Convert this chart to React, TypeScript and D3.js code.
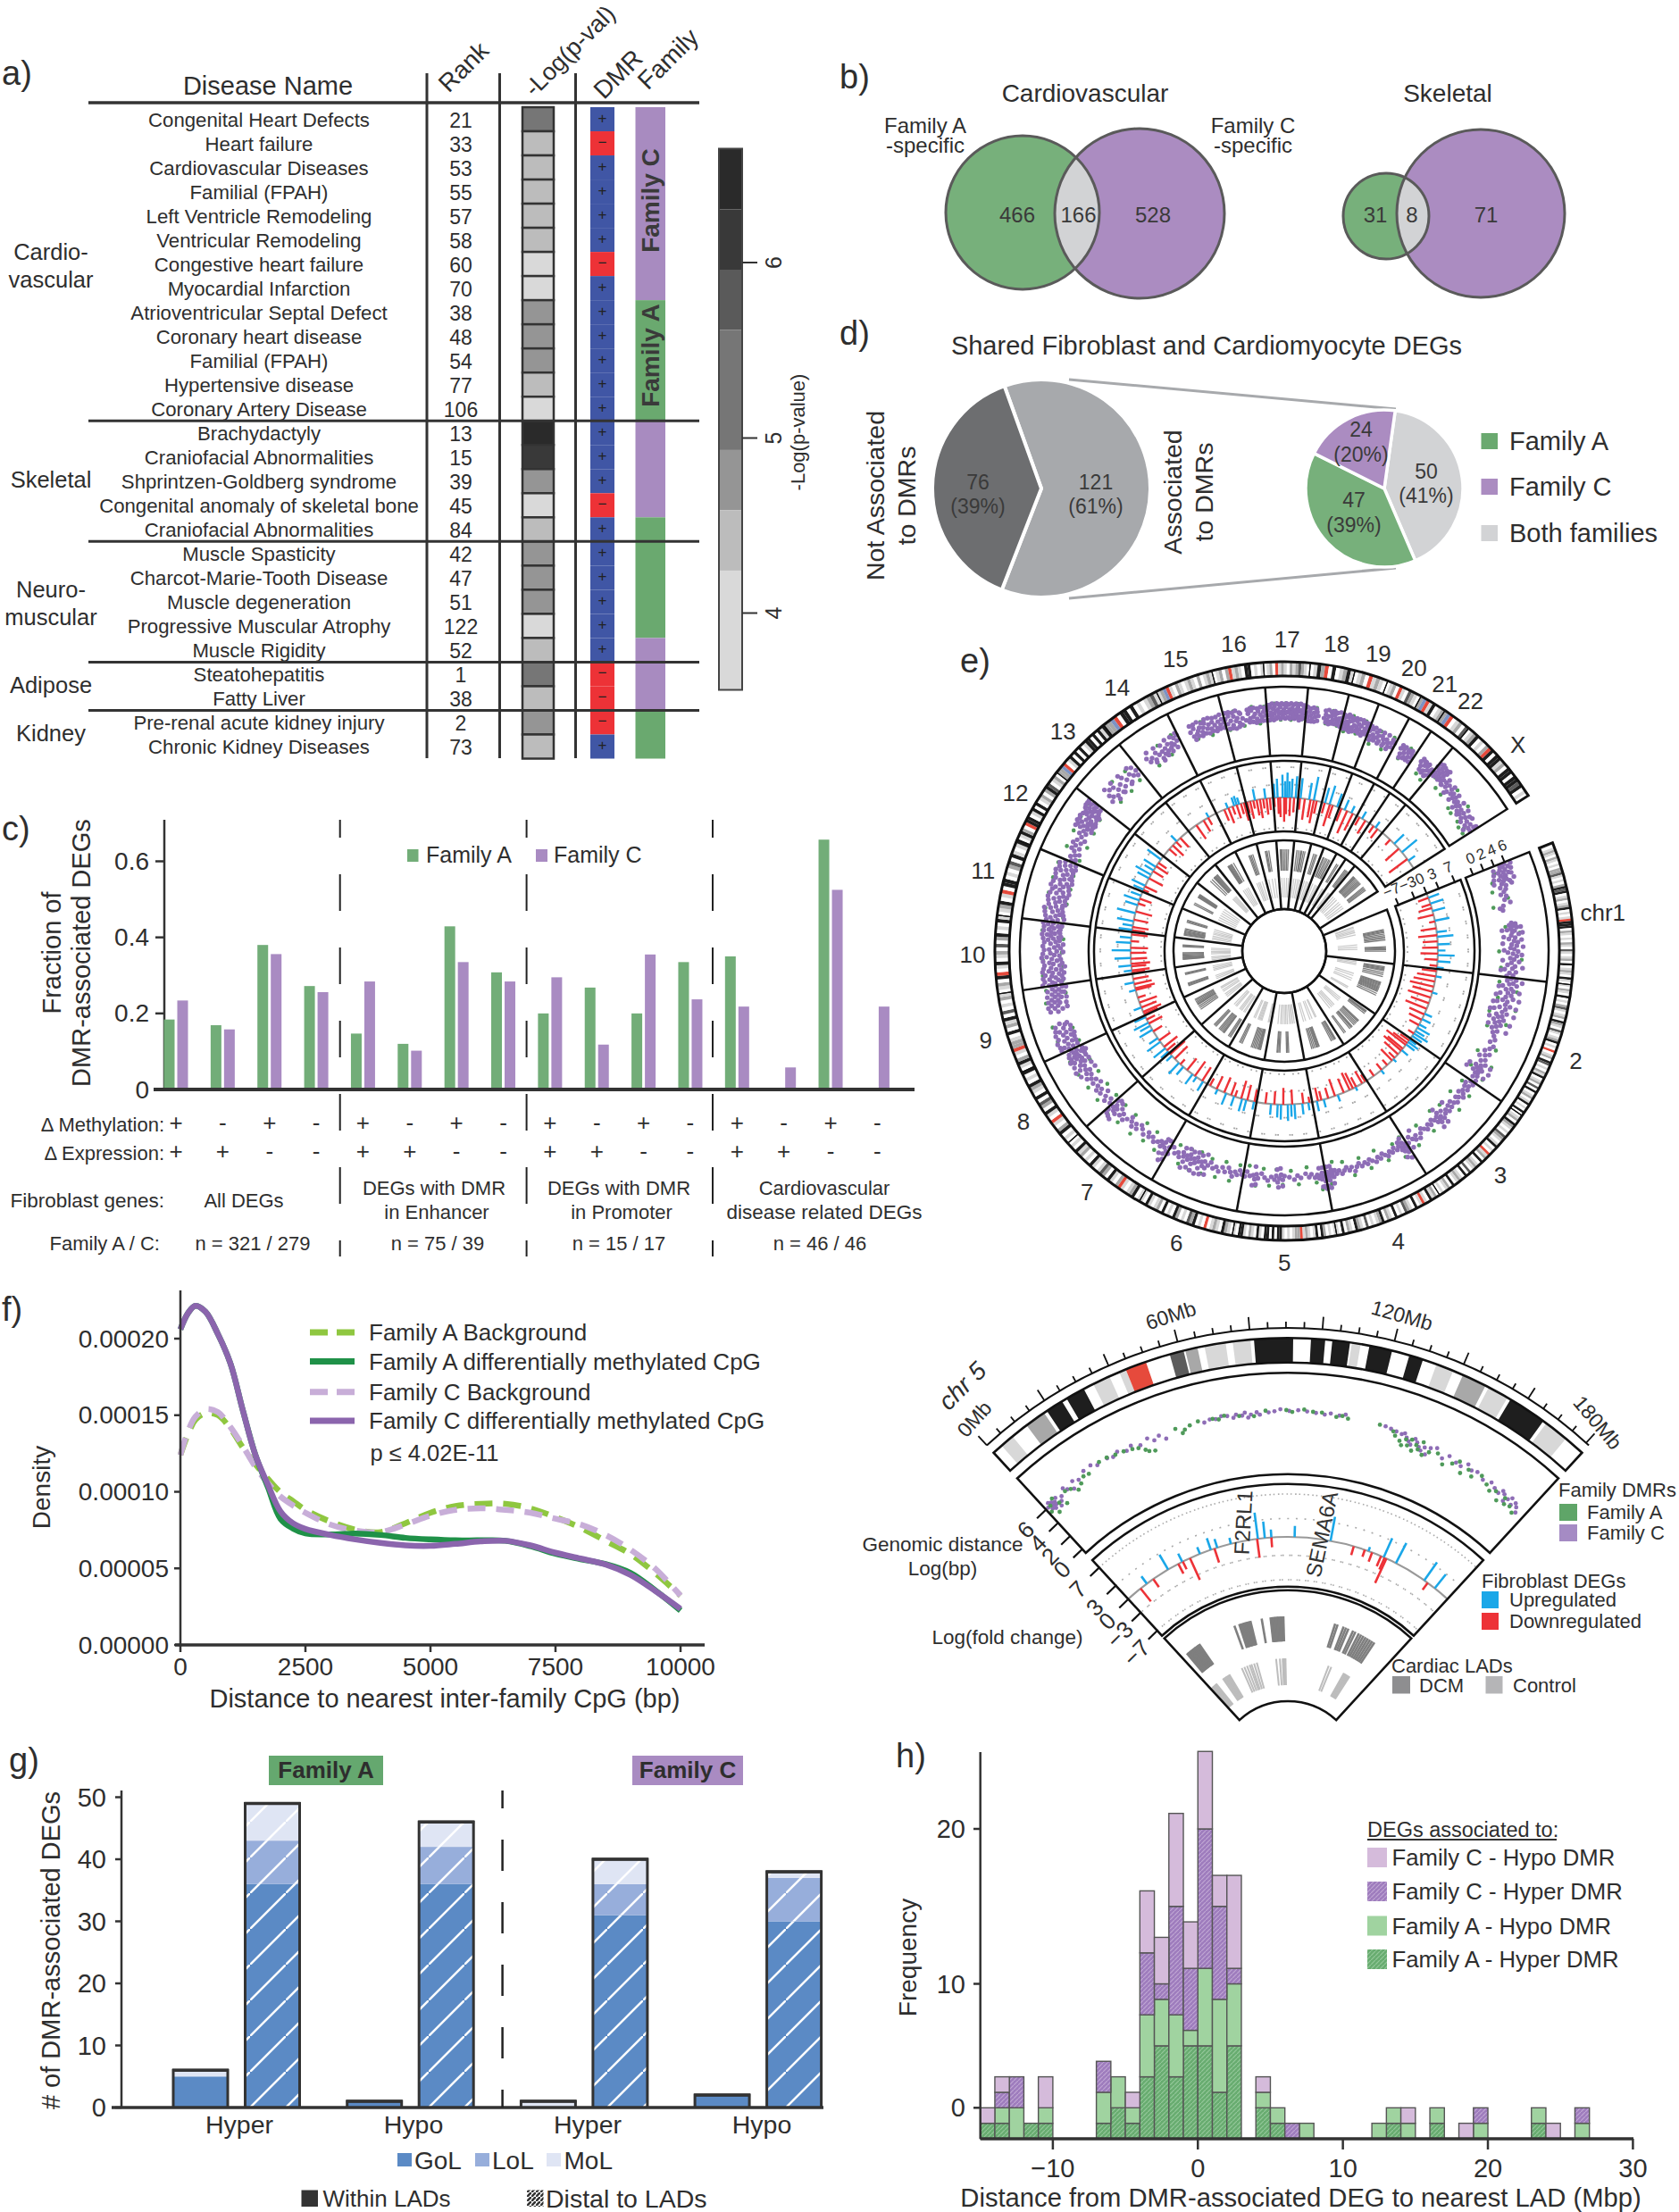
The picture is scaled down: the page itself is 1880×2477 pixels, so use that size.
import React from "react";
import * as d3 from "d3";

// ---------- shared colours ----------
const GREEN = "#6aa96f", PURPLE = "#a88bc0", INK = "#2e2e2e";
const FONT = "'Liberation Sans', Arial, sans-serif";

// ---------- panel a ----------
const diseaseNames = ["Congenital Heart Defects","Heart failure","Cardiovascular Diseases","Familial (FPAH)","Left Ventricle Remodeling","Ventricular Remodeling","Congestive heart failure","Myocardial Infarction","Atrioventricular Septal Defect","Coronary heart disease","Familial (FPAH)","Hypertensive disease","Coronary Artery Disease","Brachydactyly","Craniofacial Abnormalities","Shprintzen-Goldberg syndrome","Congenital anomaly of skeletal bone","Craniofacial Abnormalities","Muscle Spasticity","Charcot-Marie-Tooth Disease","Muscle degeneration","Progressive Muscular Atrophy","Muscle Rigidity","Steatohepatitis","Fatty Liver","Pre-renal acute kidney injury","Chronic Kidney Diseases"];
const diseaseRanks = [21,33,53,55,57,58,60,70,38,48,54,77,106,13,15,39,45,84,42,47,51,122,52,1,38,2,73];
const heatLevels = [4,2,2,2,2,2,1,1,3,3,3,2,1,7,6,3,1,2,3,3,3,1,2,4,2,3,2];
const dmrSigns = "+-++++-++++++" + "+++-+" + "+++++" + "--" + "-+";
const familyRuns: [string, number][] = [["C",8],["A",5],["C",4],["A",5],["C",3],["A",2]];
const heatGreys = ["#d9d9d9","#bcbcbc","#959595","#767676","#5a5a5a","#393939","#2a2a2a"];
const categoryLabels: [string, number][] = [["Cardio-",281.5],["vascular",313],["Skeletal",537],["Neuro-",660],["muscular",691],["Adipose",766.5],["Kidney",821]];
const sepRows = [13,18,23,25];

// ---------- panel b / d ----------
const bigPie = [121,76];
const smallPie = [50,47,24];

// ---------- panel c ----------
const famAFrac = [.184,.169,.38,.272,.147,.12,.429,.308,.2,.268,.2,.335,.35,0,.657,0];
const famCFrac = [.234,.158,.356,.256,.284,.102,.335,.284,.295,.118,.355,.237,.218,.058,.525,.218];
const methSigns = "+-+-+-+-+-+-+-+-";
const exprSigns = "++--++--++--++--";

// ---------- panel f ----------
const dpX = [0,150,300,500,750,1000,1250,1500,1750,2000,2250,2500,3000,3500,4000,4500,5000,5500,6000,6500,7000,7500,8000,8500,9000,9500,10000];
const famCDm = [206,216.6,221.4,217.6,203,183.8,153,124,104.6,87.3,79.5,75.7,71.8,68.9,66.6,65,64.7,66,67.6,68,65,60.2,56.4,52.5,45.7,35.1,23.5];
const famADm = [206,216.6,221.4,217.6,203,183.8,153,124,103,82.4,76,72.8,72.2,72.8,71.8,69.9,68.9,68.3,68.3,68,64.5,59.5,56,52.8,47,35.5,22.5];
const famABg = [124,137.5,147,151.3,150,141.3,128.8,118,108.5,99.8,94,88.2,80.5,75.3,73.7,79.5,86.3,90.7,92.1,92.1,89.2,83.4,76.6,68,59.3,46.7,32.2];
const famCBg = [124,139.4,149,153.9,152,142.3,129.8,116.2,105.6,96.9,91.1,86.3,78.6,74.7,73.7,78.6,84.4,88.2,89.2,88.2,86.3,82.4,78.6,71.8,62.2,49.6,32.2];

// ---------- panel g ----------
const gLabels = ["Hyper","Hypo","Hyper","Hypo"];
const gGoL = [5,36,1,36,0,31,2,30];
const gLoL = [0,7,0,6,0,5,0,7];
const gMoL = [1,6,0,4,1,4,0,1];

// ---------- panel h ----------
const hBinStart = d3.range(-15,27);
const hAHyper = [1,1,0,1,1,0,0,0,1,2,1,4,6,4,6,6,3,6,0,2,1,0,0,0,0,0,0,0,1,0,0,1,0,0,0,0,0,0,1,0,0,0];
const hAHypo  = [0,1,2,0,1,0,0,0,2,2,1,4,3,4,1,5,6,4,0,1,1,0,1,0,0,0,0,1,1,1,0,1,0,0,1,0,0,0,1,0,0,1];
const hCHyper = [0,1,2,0,0,0,0,0,2,0,0,4,1,7,4,9,6,1,0,0,0,1,0,0,0,0,0,0,0,0,0,0,0,0,1,0,0,0,0,0,0,1];
const hCHypo  = [1,1,0,0,2,0,0,0,0,0,1,4,3,6,3,5,2,6,0,1,0,0,0,0,0,0,0,0,0,1,0,0,0,1,0,0,0,0,0,1,0,0];
const hYTicks: [number,string][] = [[2,"0"],[10,"10"],[20,"20"]];

// ---------- panel e: genome ----------
const chrNames = ["chr1","2","3","4","5","6","7","8","9","10","11","12","13","14","15","16","17","18","19","20","21","22","X"];
const chrMb = [249,243,198,191,181,171,159,146,141,136,135,134,115,107,102,90,81,78,59,63,48,51,155];
const chrBands = ["lwlmlwmlwlwmmdlwlwmkdkwlmwlmkwlwlrkkkwmlwlwmlwdlwlmwkwlmlwklw","lwmlwkwlwmdlwlmwkmlwdlwlmkwlwrwlmwkdwlwmlkwlmwdwkwlmwlkwlwkw","wlmwkmlwlwdmlwlkwlwrlmwkwlmlwdwkwlmlwkwmlwlw","wmlkwlrlwkwlmdwlwkwlmwkmlwlwdwlmkwlmwkwl","lwlwmkwklwlmlrmmlwlwlkkwkwkkwlkwlmwlkkwl","wlmkwlmlwrwlwkmdwlwmkwlwkwmlwlkwl","lwkmlwlrmwlkwmdlwlkwlwmlkwlw","wlwkmwlrwlkwmdwkwlmkwlwk","wlkmwlrmmlwkwmlkwdwlwml","wlmwkrwlkwlmwdwmkwlwkl","wlmkwlrwkkwlwmdwklwlk","wlkmwrkkwlkwkwlmwmkdwlmw","mmbrwlkwkwkwlkkwkwklk","mmbrwkkwkwlwlmdl","lmbrlwmlwlmlwmwlml","wlmwmrlmlwkkwlwl","wlmwrlmlwmlmdmlw","wlkmrwkwlmkl","wlmwrlmlw","wlmwrlwdmlw","mbrlkwlm","mbrwlmwd","wlmkwlwmrkwkklmwkkwkkdkwlw"];
const bandColor: Record<string,string> = {w:"#ffffff",l:"#d8d8d8",m:"#a8a8a8",d:"#5c5c5c",k:"#1e1e1e",r:"#e64a3c",b:"#7d93c4"};

// DMR dots per chromosome, "position%:value*10"
const dmrPurple = [
"1:62 2:58 3:60 4:64 5:57 6:61 7:55 8:59 9:63 10:56 11:60 12:58 13:54 14:60 15:57 16:62 17:55 19:58 20:53 22:57 24:55 26:52 28:56 31:54 34:58 36:52 38:49 40:51 52:56 53:59 54:54 55:57 56:60 57:55 58:52 59:58 60:56 62:61 63:55 65:58 66:53 68:57 69:60 71:55 72:59 74:54 75:57 77:60 78:52 79:56 81:59 83:54 84:57 86:61 87:55 89:52 90:58 92:56 93:50 95:59 96:54 98:57 99:52",
"1:56 2:60 3:53 5:58 6:55 7:61 8:50 10:57 11:53 12:59 14:55 15:49 16:58 18:54 19:60 21:52 22:56 23:48 25:55 26:59 28:51 29:56 30:47 32:54 33:58 35:50 36:55 37:52 39:57 40:49 41:54 43:51 44:56 46:53 48:50 50:55 52:52 55:54 58:56 61:53 64:57 67:55 70:52 72:57 74:54 76:50 78:56 80:53 82:58 84:55 85:51 86:56 87:53 88:58 89:55 90:51 91:56 92:54 94:57 96:54 98:58",
"1:55 3:58 5:52 7:56 9:53 11:57 14:54 17:56 18:52 20:58 23:55 25:53 28:57 31:55 33:52 36:56 38:53 41:57 43:54 46:56 48:52 50:58 52:55 53:51 54:56 55:59 56:53 58:57 60:54 63:52 66:55 69:53 72:56 75:54 78:52 81:55 84:58 87:54 89:57 92:55 95:52 98:56",
"1:59 2:55 3:62 4:57 5:53 6:60 7:56 8:58 10:54 13:56 16:53 19:56 22:54 25:57 28:55 31:53 34:56 37:54 40:57 44:55 47:53 50:56 53:54 57:56 60:53 63:55 66:58 69:54 72:56 75:53 78:55 81:57 84:54 87:56 89:53 91:58 92:55 93:52 94:57 95:54 96:60 97:56 98:53 99:58",
"1:60 2:56 3:64 4:53 5:58 6:55 8:57 10:54 13:56 17:53 20:55 24:52 30:55 34:53 38:56 44:54 50:53 52:56 54:52 56:55 58:58 60:53 62:56 66:54 70:57 74:55 78:52 82:56 84:53 86:57 88:54 92:55 96:52 98:56",
"2:55 5:52 8:56 11:54 14:58 17:55 20:52 24:56 28:53 32:57 36:54 40:56 44:52 47:55 50:58 52:53 54:57 56:54 58:60 60:55 62:52 64:57 66:54 68:59 70:55 72:52 74:57 76:54 78:60 80:56 82:53 85:58 88:55 92:57 96:53 99:60",
"1:55 3:59 5:62 7:57 9:53 11:56 13:58 15:54 19:56 24:58 28:55 33:57 36:54 41:58 46:55 50:53 53:58 57:55 60:59 64:56 67:53 71:57 75:60 79:56 82:59 85:54 88:61 90:57 92:60 94:55 96:58 98:62",
"3:58 7:55 11:60 15:57 19:53 23:59 27:56 30:60 34:57 37:53 41:59 44:55 48:58 51:61 54:56 58:59 61:55 64:58 67:62 70:57 73:60 76:55 78:58 80:63 82:56 84:60 86:57 88:61 90:58 92:54 94:60 96:57 98:61",
"2:62 4:58 6:65 9:61 12:57 15:63 18:60 21:56 24:62 27:59 30:64 34:60 39:58 42:62 60:60 63:56 66:62 69:59 71:64 73:57 75:61 77:58 79:63 81:55 83:60 85:57 87:62 89:54 91:59 93:56 95:61 97:53 99:58",
"1:63 3:58 5:60 8:55 10:62 12:57 15:60 18:54 20:59 23:62 25:56 28:60 31:53 34:58 36:61 39:55 42:59 45:63 48:57 51:60 54:55 57:61 60:57 63:54 66:60 69:56 72:62 74:58 76:54 78:60 80:63 82:57 84:60 86:54 88:62 90:58 92:60 94:55 96:63 98:59",
"2:60 4:56 7:62 10:58 13:55 16:61 19:57 22:63 25:59 28:54 31:60 34:57 37:62 40:58 43:55 46:61 49:56 52:59 55:63 58:57 61:60 64:55 67:61 70:58 73:54 76:60 79:57 82:63 85:59 88:55 91:61 94:57 97:62",
"2:58 5:55 8:60 12:57 15:54 18:59 21:62 24:56 27:60 30:63 33:57 36:61 39:55 43:59 47:62 50:57 53:60 56:64 58:58 60:62 62:59 64:65 66:60 68:57 70:63 72:59 75:62 78:65 80:61 82:58 84:64 86:62 88:66 90:60 92:63 94:67 96:62 98:65",
"22:55 26:60 30:57 34:63 38:55 42:62 46:58 50:54 55:60 60:56 65:63 70:59 75:55 80:61 85:58 90:64 94:60",
"24:62 28:58 34:60 40:57 45:62 50:59 54:55 58:60 62:57 66:61 70:58 74:63 78:59 82:62 86:60 90:65 94:62 98:66",
"26:63 30:59 34:65 38:60 42:62 46:64 50:60 54:63 58:66 62:61 66:64 70:60 74:65 78:62 82:59 86:64 90:61 94:65 98:62",
"2:64 6:60 10:66 14:62 18:58 22:65 26:61 30:63 34:59 38:66 42:62 50:60 56:65 60:61 64:67 68:62 72:64 76:60 80:66 84:63 88:61 92:65 96:62",
"1:66 4:62 7:68 10:64 13:61 16:67 19:63 22:65 25:60 28:66 31:63 34:68 37:64 40:61 43:66 46:63 49:68 52:64 55:60 58:66 61:63 64:67 67:64 70:61 73:66 76:63 79:68 82:65 85:61 88:66 91:63 94:67 97:64",
"2:64 6:61 10:66 14:63 18:60 22:65 26:62 30:66 34:63 50:62 54:65 58:61 62:64 66:60 70:65 74:62 78:66 82:63 86:61 90:64 94:61 98:65",
"1:62 6:66 10:60 14:63 18:67 22:61 26:64 30:59 35:65 40:60 45:62 50:66 55:61 60:64 65:60 70:63 75:66 80:59 85:62 90:65 95:60 99:63",
"3:62 8:58 13:64 18:60 23:57 28:63 33:59 38:61 44:57 50:62 56:60 62:57 68:61 74:59 80:56 86:60 92:57 97:61",
"30:60 38:56 45:61 52:58 60:55 68:60 76:57 84:61 92:58",
"35:60 44:57 50:62 57:59 64:55 70:60 76:57 82:53 88:58 94:55",
"1:65 3:60 5:63 7:66 9:61 11:64 13:59 15:62 17:65 19:60 21:56 24:60 27:57 30:60 33:55 36:59 39:56 42:58 45:55 48:57 51:54 54:56 57:53 60:55 63:51 66:54 69:51 72:54 75:50 78:53 81:56 84:52 87:49 90:53 93:50 96:54 98:50"];
// second, denser sheet of purple dots where the reference's cloud is thick
const dmrPurpleDense = [
"2:67 4:52 6:66 8:51 10:65 12:50 14:66 16:49 18:63 56:63 58:48 61:64 64:49 67:63 70:48 73:64 76:49 80:63 85:48 91:64 94:47",
"4:65 9:47 13:64 17:46 20:65 24:45 27:64 31:44 34:64 38:45 42:63 45:46 49:62 83:63 86:46 88:64 90:45 93:62",
"40:48 50:62 54:47 57:63 96:61 90:48",
"3:67 5:49 7:65 9:51 92:63 94:49 96:66 98:49 99:64",
"1:66 3:49 5:64 7:49 52:61 55:47 57:62 59:48 84:61 86:47 88:62",
"48:63 51:47 54:64 57:49 60:65 63:48 66:64 69:49 72:63 75:48 78:65 81:49",
"2:66 4:50 6:68 8:50 10:63 88:67 90:51 92:66 94:50 96:65 98:52",
"58:64 62:50 66:66 70:51 74:65 78:51 82:66 84:52 86:64 88:52 90:65 92:50 94:64 96:52",
"3:68 5:54 8:68 11:54 14:69 17:54 20:67 23:53 26:68 29:55 32:67 35:54 38:66 41:56 62:66 65:52 68:67 72:52 76:66 80:51 84:66 88:52 92:65 96:50",
"2:68 4:53 7:66 9:51 12:67 14:52 17:65 19:50 22:67 24:52 27:66 29:49 32:65 35:51 38:66 41:52 44:67 47:53 50:66 53:50 56:65 59:52 62:66 65:50 68:65 71:53 74:66 77:52 80:67 83:53 86:66 89:53 92:66 95:52 98:67",
"3:65 6:51 9:66 12:52 15:67 18:53 21:68 24:54 27:65 30:52 33:66 36:53 39:67 42:52 45:66 48:51 51:65 54:52 57:67 60:53 63:66 66:51 69:65 72:52 75:66 78:53 81:67 84:53 87:65 90:52 93:66 96:53",
"55:68 57:54 59:67 61:55 63:69 65:55 67:68 69:54 71:69 73:55 76:68 79:56 81:67 83:55 85:69 87:57 89:70 91:58 93:70 95:58 97:70",
"28:66 36:52 44:66 52:53 62:66 72:54 83:66 92:56",
"30:66 38:55 46:66 54:53 60:65 66:55 72:67 78:56 84:67 90:57 96:68",
"28:68 32:56 36:68 40:58 44:69 48:57 52:67 56:58 60:69 64:57 68:69 72:58 76:68 80:57 84:68 88:58 92:69 96:58",
"4:69 8:56 12:69 16:56 20:68 24:55 28:69 32:56 36:67 40:57 55:68 58:58 62:69 66:58 70:69 74:57 78:68 82:58 86:69 90:58 94:68 98:58",
"2:70 5:58 8:70 11:59 14:71 17:58 20:69 23:59 26:71 29:60 32:70 35:59 38:71 41:60 44:70 47:59 50:71 53:60 56:70 59:59 62:71 65:60 68:70 71:59 74:71 77:60 80:70 83:58 86:71 89:59 92:70 95:60 98:70",
"4:69 8:58 12:68 16:58 20:69 24:58 28:68 32:59 52:68 56:59 60:69 64:58 68:68 72:59 76:69 80:59 84:68 88:59 92:69 96:58",
"4:68 8:57 12:67 16:58 20:69 24:57 28:68 32:56 36:67 42:57 48:68 54:58 60:68 66:57 72:68 78:56 84:67 90:58 96:67",
"6:66 12:55 20:66 26:56 34:65 42:55 52:65 60:55 70:65 78:54 88:63",
"34:63 42:53 50:63 58:54 66:62 74:54 82:63 90:54",
"40:63 48:54 56:62 62:53 72:62 80:52 92:60",
"2:68 4:57 6:69 8:58 10:68 12:57 14:67 16:58 18:68 20:56 25:63 31:53 37:62 43:52 49:60 55:50 61:59 67:49 73:58 79:48 85:57 91:46 97:56"];
const dmrGreen = [
"6:52 14:48 22:46 30:57 36:44 55:51 61:62 70:48 77:45 84:63 92:47",
"5:47 12:62 20:48 28:64 34:44 42:60 48:46 66:60 73:47 81:63 88:48 94:62",
"6:49 15:61 24:47 33:62 44:48 50:62 57:46 68:60 80:48 90:62",
"4:48 9:64 15:50 27:60 38:48 48:60 58:49 68:61 78:48 90:46 95:63",
"3:49 6:66 12:60 22:47 33:60 42:49 52:60 60:48 68:61 76:48 84:62 94:47",
"6:48 16:62 25:48 34:62 44:49 52:63 60:47 67:64 74:48 82:63 90:49",
"8:50 17:63 27:50 36:62 46:49 55:64 66:50 77:64 86:50 94:65",
"6:50 18:64 28:50 40:64 52:50 63:65 74:51 84:66 93:51",
"8:52 18:68 30:53 40:68 66:52 76:68 86:51 94:66",
"6:52 17:67 29:50 40:66 52:51 62:66 74:50 86:67 94:52",
"9:52 20:67 32:51 44:67 57:51 68:67 80:52 92:67",
"7:52 20:66 32:51 46:67 58:52 70:68 82:54 92:69",
"32:50 48:66 62:50 78:65 88:52",
"38:52 56:66 72:54 88:68",
"36:56 52:68 68:55 84:68",
"8:55 24:69 44:56 66:70 82:56 94:69",
"8:58 20:71 35:58 48:71 62:58 78:71 92:59",
"12:58 28:69 56:58 72:69 88:58",
"12:55 34:69 58:56 82:68",
"16:52 40:65 64:52 88:65",
"42:52 70:64",
"48:50 80:48",
"8:57 18:51 30:50 42:62 52:47 60:46 68:60 76:46 84:44 90:47 95:44"];

// DEG bars per chromosome, "position%:|log fold change|*16"
const degUp = [
"6:42 14:50 24:48 37:55 52:38 58:60 68:45 76:28 82:62 90:48 98:25",
"10:22 32:20 62:30 70:35 78:30 83:52 88:38 92:60 96:42",
"3:30 7:45 12:38 24:30 44:15 71:18",
"22:15 55:25 80:30 92:38",
"7:28 18:40 32:55 38:45 44:60 56:55 62:48 74:40",
"5:30 20:42 28:48 44:38 60:45 78:20",
"10:40 26:22 36:45 60:38 72:55 92:28",
"4:35 14:55 32:60 42:38 64:55 74:42 82:60 96:45",
"20:30 62:25 80:35",
"8:30 20:48 38:60 56:70 74:55 86:42",
"5:50 15:38 26:62 46:70 66:48 78:60 90:40",
"6:40 16:55 36:48 46:65 58:38 68:52 90:62",
"56:30",
"74:20",
"40:22 62:32 70:35 78:26",
"34:42 72:38",
"6:52 18:70 38:84 48:60 56:92 64:60 74:70 90:80",
"10:75 46:62 66:88",
"18:58 44:72 88:52",
"30:40 68:28",
"40:30",
"46:26",
"34:50 58:72 80:30"];
const degDown = [
"6:40 15:35 20:50 29:60 38:22 47:58 56:70 64:55 72:58 80:64 88:48 96:28",
"3:55 10:70 17:80 24:90 31:76 39:88 47:70 55:84 63:60 71:52 79:40 92:25",
"4:40 9:65 13:90 21:72 25:84 33:68 41:30 47:58 58:26 70:30 86:28",
"3:30 9:52 21:40 27:64 33:70 44:56 60:66 72:40 84:34 90:50",
"5:22 16:40 36:55 52:62 68:48 84:42",
"4:45 18:58 30:68 42:25 50:50 64:60 80:52 94:30",
"12:60 30:66 50:55 68:24 84:66 97:72",
"8:40 18:62 36:50 60:38 80:56 90:34",
"4:55 9:72 20:60 32:68 44:30 62:60 66:74 76:66 88:58",
"3:48 8:66 18:55 24:70 36:60 50:58 62:64 78:30 94:60",
"4:48 12:60 30:54 50:62 70:28 82:46",
"5:22 14:48 36:58 56:44 70:52 80:36",
"26:36 40:55 54:28 70:46",
"30:62 56:48 72:30",
"28:44 42:60 56:32 70:52 84:40 94:68",
"5:42 16:66 28:30 40:58 52:70 64:36 76:60 88:44",
"4:34 20:60 28:72 44:90 52:62 68:68 84:54",
"8:42 28:78 52:66 66:86 78:48",
"16:40 46:84 62:50",
"12:50 44:90 76:70",
"20:34 66:56",
"30:30 62:42",
"22:26 48:66 76:84"];

// LAD bands per chromosome, position%
const ladDark = ["34 36 38 40 43 46 49 52 55 68 70 72 74 77","8 10 12 14 16 20 24 28 40 42 44 46 48 50 52 54 56 58 60 64 68","6 8 10 14 36 38 40 44 48 52 58 60 62 66 80 84","10 12 14 18 22 56 58 60 62 64 68 72 76","38 41 44 62 65 68 70","16 18 20 22 24 28 32 36 40 44 72 76 80","10 14 18 34 36 38 42 46 50 54 66 70 74","40 46 52 58 60 62 66 70 74 78","30 33 36 39 70 73 76","24 26 28 30 32 36 40 44 48 70 73 76","12 15 18 21 24 28 32 36 60 64 68","30 36 60 62 64 66 68 70 72","40 50 60 62 64 66 68 72 76 80","40 42 44 46 48 52 56 60 70","50 56 62 70","36 40 46 56","20 24 30 40 50 60 70","22 34 46 50 54 64 74","40 54 66","22 30 44 56 70 80","52 68","52 66 80","18 20 22 24 26 30 34 38 42 46 50 64 68 72 76"];
const ladLight = ["10 13 18 22 26 32 60 66 72","6 10 14 40 46 54 60 80 84","22 28 34 54 60 66 74","30 34 46 54 70 78","12 18 24 30 38 44 50 58 64 74","8 12 38 42 46 50 54 66 72","14 20 30 36 42 58 64 72","18 26 34 48 56 66 72","16 24 32 58 64 72 80","10 18 26 40 46 52 60 68","14 22 30 40 46 54 64","18 30 42 54 66 78","54 62 70 78","36 48 60 72","36 48 58 74","22 48 70","24 44 64 80","26 44 62 78","28 52 72","30 58 76","60 80","58 76","14 24 34 48 58 70 80"];

// ---------- chr 5 detail ----------
const chr5Bands: [number,number,string][] = [[3,7,"l"],[12,18,"m"],[19,24,"k"],[25.5,31,"k"],[34,39,"l"],[42,44,"l"],[44,50,"r"],[57,61,"d"],[61.5,65,"m"],[67,73,"l"],[75,80,"l"],[81,92,"k"],[97,101,"k"],[103,108,"k"],[108.5,111,"l"],[113.5,120,"k"],[125,129,"k"],[133,138,"l"],[141,148,"m"],[149,155,"l"],[156,167,"k"],[168,175,"l"]];
const chr5Purple = "1:60 2:56 2:64 3:58 3:62 3:54 4:60 4:57 5:52 5:63 6:56 7:60 9:66 10:62 12:58 13:66 15:63 18:68 21:69 23:65 27:66 29:64 31:67 34:63 36:66 39:62 42:66 44:61 46:64 48:58 62:63 64:65 66:64 68:66 70:65 72:62 73:65 75:63 76:66 77:60 78:63 80:65 81:62 84:64 86:65 88:67 91:65 94:66 97:65 100:64 103:63 105:65 108:64 110:66 124:63 126:62 128:61 130:60 131:62 132:58 133:55 134:52 135:60 136:57 137:53 138:50 139:55 140:48 141:57 143:60 146:52 148:58 151:55 153:54 155:60 157:56 159:58 162:54 165:57 167:54 169:52 170:57 171:55 172:48 173:53 174:57 175:50 176:55 177:52 178:47";
const chr5Green = "1:54 2:60 3:48 4:65 5:56 7:50 9:62 11:60 13:54 15:58 17:63 19:62 24:67 27:67 30:65 33:64 36:62 38:60 40:55 41:52 43:50 52:65 54:58 55:61 57:64 60:66 65:65 67:63 69:66 74:63 79:61 83:66 90:66 92:64 96:67 99:65 102:65 107:62 109:64 111:62 122:63 127:60 128:56 130:52 131:48 132:56 133:50 134:58 135:46 136:54 137:50 138:60 139:46 141:52 144:55 147:46 150:52 152:58 154:47 156:55 158:50 161:57 164:52 166:48 168:52 170:44 172:52 173:46 175:48 177:44";
const chr5Up: [number,number][] = [[12.5,1.5],[25.7,2.8],[34,1.5],[44,1.2],[50,2],[53.5,1.5],[60.8,1],[75,4.3],[78.6,2.7],[82,1.3],[94,1.8],[112.7,4],[133,.7],[141.5,3.4],[148.5,3.7],[165.6,3.6],[172.4,2.9]];
const chr5Down: [number,number][] = [[8.4,2.7],[16.6,1.6],[31.7,1.8],[34.3,1.4],[38.4,3.9],[52,2.4],[74.6,3.1],[82,1.6],[125,1.5],[131,1.2],[135,1.6],[140,1.8],[142,2.1],[143,4.4],[167.8,1.4]];
const chr5LadDark = [5,6,7,8,9,10,11,12,13,14,15,16,17,48,52,53,54,55,56,57,58,59,60,61,70,77,78,79,80,81,82,83,84,85,86,87,128,130,135,137,139,143,145,148,150,152,154,156,158,160,162];
const chr5LadLight = [2,3,4,5,6,7,8,17,18,19,20,21,22,23,24,25,40,43,46,49,51,54,57,78,82,85,86,87,88,135,138,153,154,155,156,157,158,159,160];

// ---------- helpers ----------
const rad = (d: number) => (d * Math.PI) / 180;
const polar = (cx: number, cy: number, r: number, deg: number): [number, number] => [cx + r * Math.sin(rad(deg)), cy - r * Math.cos(rad(deg))];
const pairs = (s: string) => s.trim().split(/\s+/).filter(Boolean).map((t) => t.split(":").map(Number));
const nums = (s: string) => s.trim().split(/\s+/).filter(Boolean).map(Number);
const arcGen = d3.arc<any>();
const ring = (r0: number, r1: number, a0: number, a1: number) =>
  arcGen({ innerRadius: r0, outerRadius: r1, startAngle: rad(a0), endAngle: rad(a1) }) as string;

function T({ x, y, s = 22, a = "middle", rot, w, c = INK, st, children }: any) {
  return (
    <text x={x} y={y} fontSize={s} textAnchor={a} dominantBaseline="central" fontWeight={w} fontStyle={st} fill={c}
      transform={rot !== undefined ? `rotate(${rot} ${x} ${y})` : undefined}>{children}</text>
  );
}
const Sq = ({ x, y, w, h, f }: any) => <rect x={x} y={y} width={w} height={h} fill={f} />;

// ---------- panels ----------
function PanelA() {
  const y = d3.scaleLinear().domain([0, 27]).range([120, 849.5]);
  let acc = 0;
  const fam = familyRuns.map(([k, n]) => { const s = acc; acc += n; return { k, s, e: acc }; });
  const levels = d3.scaleLinear().domain([0, 1]).range([166.5, 772.5]);
  const cbEdges = [[0,.1122,6],[.1122,.2236,5],[.2236,.335,4],[.335,.5568,3],[.5568,.668,2],[.668,.7796,1],[.7796,1,0]];
  return (
    <g>
      <T x={2} y={82} s={38} a="start">a)</T>
      <T x={300} y={96} s={29}>Disease Name</T>
      <T x={519} y={75} s={28} rot={-45}>Rank</T>
      <T x={638} y={57} s={27} rot={-45}>-Log(p-val)</T>
      <T x={692} y={83} s={28} rot={-45}>DMR</T>
      <T x={748} y={66} s={28} rot={-45}>Family</T>
      {diseaseNames.map((n, i) => (
        <g key={i}>
          <rect x={585} y={y(i)} width={35} height={y(1) - y(0)} fill={heatGreys[heatLevels[i] - 1]} stroke="#333" strokeWidth={2.5} />
          <rect x={661} y={y(i)} width={27} height={y(1) - y(0)} fill={dmrSigns[i] === "+" ? "#4056a5" : "#ed3237"} />
          <T x={674.5} y={y(i + 0.5) - 1} s={17} c="#222">{dmrSigns[i] === "+" ? "+" : "−"}</T>
          <T x={290} y={y(i + 0.5) + 0.5} s={22.2}>{n}</T>
          <T x={516} y={y(i + 0.5) + 1} s={23}>{diseaseRanks[i]}</T>
        </g>
      ))}
      {fam.map((f, i) => <rect key={i} x={711.5} y={y(f.s)} width={33.5} height={y(f.e) - y(f.s)} fill={f.k === "C" ? PURPLE : GREEN} />)}
      <T x={728} y={224.5} s={28} w="bold" rot={-90} c="#3a3a3a">Family C</T>
      <T x={728} y={398} s={28} w="bold" rot={-90} c="#3a3a3a">Family A</T>
      {[478, 559.5, 644.5].map((x) => <line key={x} x1={x} x2={x} y1={82} y2={849} stroke="#333" strokeWidth={3} />)}
      <line x1={99} x2={783} y1={115} y2={115} stroke="#333" strokeWidth={3.5} />
      {sepRows.map((r) => <line key={r} x1={99} x2={783} y1={y(r)} y2={y(r)} stroke="#333" strokeWidth={3} />)}
      {categoryLabels.map(([t, cy]) => <T key={t} x={57} y={cy} s={25.5}>{t}</T>)}
      {cbEdges.map((e, i) => <rect key={i} x={805} y={levels(e[0])} width={26} height={levels(e[1]) - levels(e[0])} fill={heatGreys[e[2]]} />)}
      <rect x={805} y={166.5} width={26} height={606} fill="none" stroke="#444" strokeWidth={2} />
      {([[294, "6"], [490.5, "5"], [686.5, "4"]] as [number, string][]).map(([ty, l]) => (
        <g key={l}>
          <line x1={831} x2={848} y1={ty} y2={ty} stroke="#333" strokeWidth={2} />
          <T x={866} y={ty} s={25} rot={-90}>{l}</T>
        </g>
      ))}
      <T x={893} y={484} s={22} rot={-90}>-Log(p-value)</T>
    </g>
  );
}

function Venn({ id, a, c, t, nums: n, lx }: any) {
  return (
    <g>
      <defs><clipPath id={id}><circle cx={c[0]} cy={c[1]} r={c[2]} /></clipPath></defs>
      <circle cx={a[0]} cy={a[1]} r={a[2]} fill="#77b07b" />
      <circle cx={c[0]} cy={c[1]} r={c[2]} fill="#ab8cc1" />
      <circle cx={a[0]} cy={a[1]} r={a[2]} fill="#d2d3d5" clipPath={`url(#${id})`} />
      <circle cx={a[0]} cy={a[1]} r={a[2]} fill="none" stroke="#5a5a5a" strokeWidth={3} />
      <circle cx={c[0]} cy={c[1]} r={c[2]} fill="none" stroke="#5a5a5a" strokeWidth={3} />
      <T x={t[0]} y={104} s={28}>{t[1]}</T>
      {n.map((v: number, i: number) => <T key={i} x={lx[i]} y={240} s={24} c="#3a3a3a">{v}</T>)}
    </g>
  );
}

function PanelBD() {
  const pieGen = d3.pie<number>().sort(null);
  const big = pieGen.startAngle(rad(-19.8)).endAngle(rad(340.2))(bigPie);
  const small = d3.pie<number>().sort(null).startAngle(rad(8)).endAngle(rad(368))(smallPie);
  const bigFill = ["#a7a9ac", "#6d6e70"], smallFill = ["#d2d3d5", "#77b07b", "#ab8cc1"];
  return (
    <g>
      <T x={940} y={86} s={38} a="start">b)</T>
      <Venn id="v1" a={[1145, 238, 86]} c={[1276, 239, 95]} t={[1215, "Cardiovascular"]} nums={[466, 166, 528]} lx={[1139, 1207.5, 1291]} />
      <Venn id="v2" a={[1552, 242, 48]} c={[1658, 239, 94]} t={[1621, "Skeletal"]} nums={[31, 8, 71]} lx={[1540, 1581, 1664]} />
      <T x={1036} y={140} s={24}>Family A</T><T x={1036} y={162} s={24}>-specific</T>
      <T x={1403} y={140} s={24}>Family C</T><T x={1403} y={162} s={24}>-specific</T>
      <T x={940} y={373} s={38} a="start">d)</T>
      <T x={1351} y={387} s={29}>Shared Fibroblast and Cardiomyocyte DEGs</T>
      <line x1={1197} y1={425} x2={1563} y2={458} stroke="#a7a9ac" strokeWidth={3} />
      <line x1={1197} y1={670} x2={1563} y2={636} stroke="#a7a9ac" strokeWidth={3} />
      <g transform="translate(1166,547)">
        {big.map((d, i) => <path key={i} d={arcGen({ ...d, innerRadius: 0, outerRadius: 122 }) as string} fill={bigFill[i]} stroke="#fff" strokeWidth={4} />)}
      </g>
      <g transform="translate(1550,547)">
        {small.map((d, i) => <path key={i} d={arcGen({ ...d, innerRadius: 0, outerRadius: 88 }) as string} fill={smallFill[i]} stroke="#fff" strokeWidth={3.5} />)}
      </g>
      {([[1095, 540, "76"], [1095, 567, "(39%)"], [1227, 540, "121"], [1227, 567, "(61%)"], [1524, 481, "24"], [1524, 509, "(20%)"], [1597, 528, "50"], [1597, 555, "(41%)"], [1516, 560, "47"], [1516, 588, "(39%)"]] as [number, number, string][]).map(([x, y, l], i) => <T key={i} x={x} y={y} s={23} c="#3a3a3a">{l}</T>)}
      <T x={980} y={555} s={28.5} rot={-90}>Not Associated</T>
      <T x={1015} y={555} s={28.5} rot={-90}>to DMRs</T>
      <T x={1313} y={551} s={28.5} rot={-90}>Associated</T>
      <T x={1348} y={551} s={28.5} rot={-90}>to DMRs</T>
      {([["Family A", 494, "#6aa96f"], ["Family C", 545, "#ab8cc1"], ["Both families", 597, "#d2d3d5"]] as [string, number, string][]).map(([l, cy, f]) => (
        <g key={l}><Sq x={1658.5} y={cy - 9} w={18.5} h={18} f={f} /><T x={1690} y={cy} s={29} a="start">{l}</T></g>
      ))}
    </g>
  );
}

function PanelC() {
  const y = d3.scaleLinear().domain([0, 0.6]).range([1220, 964.5]);
  const x = d3.scaleLinear().domain([0, 15]).range([197, 982.4]);
  const rows = [[1258, methSigns], [1290, exprSigns]] as [number, string][];
  return (
    <g>
      <T x={2} y={928} s={38} a="start">c)</T>
      {[380.7, 589.6, 798].map((sx) => <line key={sx} x1={sx} x2={sx} y1={918} y2={1407} stroke="#222" strokeWidth={2} strokeDasharray="41 41" strokeDashoffset={21} />)}
      <line x1={184} x2={184} y1={918} y2={1220} stroke="#333" strokeWidth={2.5} />
      {famAFrac.map((v, i) => <rect key={i} x={x(i) - 13.5} y={y(v)} width={12} height={1220 - y(v)} fill="#72ad78" />)}
      {famCFrac.map((v, i) => <rect key={i} x={x(i) + 1.5} y={y(v)} width={12} height={1220 - y(v)} fill="#a98bc2" />)}
      <line x1={172} x2={1024} y1={1220} y2={1220} stroke="#333" strokeWidth={4} />
      {[0, .2, .4, .6].map((t) => (
        <g key={t}>
          <line x1={174} x2={184} y1={y(t)} y2={y(t)} stroke="#333" strokeWidth={2.5} />
          <T x={167} y={y(t)} s={28} a="end">{t === 0 ? "0" : t.toFixed(1)}</T>
        </g>
      ))}
      <T x={57.5} y={1067} s={29} rot={-90}>Fraction of</T>
      <T x={91} y={1067} s={29} rot={-90}>DMR-associated DEGs</T>
      <Sq x={456} y={951} w={12.5} h={14} f="#72ad78" /><T x={477} y={957} s={25} a="start">Family A</T>
      <Sq x={600} y={951} w={13} h={14} f="#a98bc2" /><T x={620} y={957} s={25} a="start">Family C</T>
      <T x={184} y={1259} s={22} a="end">Δ Methylation:</T>
      <T x={184} y={1291} s={22} a="end">Δ Expression:</T>
      {rows.map(([ry, str]) => str.split("").map((c, i) => <T key={ry + "" + i} x={x(i)} y={ry - 1} s={26}>{c}</T>))}
      <T x={184} y={1344} s={22.5} a="end">Fibroblast genes:</T>
      <T x={273} y={1344} s={22}>All DEGs</T>
      <T x={486} y={1330} s={22}>DEGs with DMR</T><T x={489} y={1357} s={22}>in Enhancer</T>
      <T x={693} y={1330} s={22}>DEGs with DMR</T><T x={696} y={1357} s={22}>in Promoter</T>
      <T x={923} y={1330} s={22}>Cardiovascular</T><T x={923} y={1357} s={22.5}>disease related DEGs</T>
      <T x={179} y={1392} s={22} a="end">Family A / C:</T>
      <T x={283} y={1392} s={22}>n = 321 / 279</T>
      <T x={490} y={1392} s={22}>n = 75 / 39</T>
      <T x={693} y={1392} s={22}>n = 15 / 17</T>
      <T x={918} y={1392} s={22}>n = 46 / 46</T>
    </g>
  );
}

function PanelE() {
  const cx = 1438, cy = 1065;
  const total = d3.sum(chrMb);
  const ang = d3.scaleLinear().domain([0, total]).range([68, 417.5]);
  const starts = d3.cumsum([0, ...chrMb]);
  const span = (i: number) => [ang(starts[i]), ang(starts[i] + chrMb[i])];
  const at = (i: number, p: number) => ang(starts[i] + (chrMb[i] * p) / 100);
  const tickR = d3.scaleLinear().domain([0, 6]).range([228, 266]);
  const dotR = d3.scaleLinear().domain([4.6, 7]).range([242, 276]);
  const fcR = d3.scaleLinear().domain([-7, 7]).range([138, 206]);
  const [a0, a1] = [68, 417.5];
  const rings: [number, number][] = [[308, 324], [219, 296], [134, 213], [47, 124]];
  const line = (r0: number, r1: number, deg: number) => {
    const [x1, y1] = polar(cx, cy, r0, deg), [x2, y2] = polar(cx, cy, r1, deg);
    return { x1, y1, x2, y2 };
  };
  const perp = (r: number, off: number, deg = 68) => polar(cx, cy, r, deg - (off / r) * (180 / Math.PI));
  const dot = (s: string, i: number, tag: string, rr: number, f: string) => pairs(s).map(([p, v], k) => {
    const [x, y] = polar(cx, cy, dotR(v / 10), at(i, p));
    return <circle key={tag + i + "-" + k} cx={x} cy={y} r={rr} fill={f} />;
  });
  return (
    <g>
      <T x={1075} y={740} s={38} a="start">e)</T>
      <g transform={`translate(${cx},${cy})`}>
        {chrBands.map((b, i) => {
          const [s, e] = span(i);
          const bw = (e - s) / b.length;
          return b.split("").map((c, k) => <path key={i + "-" + k} d={ring(308, 324, s + k * bw, s + (k + 1) * bw)} fill={bandColor[c]} />);
        })}
        {chrBands.map((_, i) => <path key={i} d={ring(308, 324, span(i)[0], span(i)[1])} fill="none" stroke="#111" strokeWidth={1.2} />)}
        {[-7, -3, 3, 7].map((v) => <path key={v} d={ring(fcR(v), fcR(v), a0, a1)} fill="none" stroke="#a5a5a5" strokeWidth={1.8} strokeDasharray="1.8 14" />)}
        <path d={ring(fcR(0), fcR(0), a0, a1)} fill="none" stroke="#999" strokeWidth={2.2} />
      </g>
      {dmrGreen.map((s, i) => dot(s, i, "g", 2.3, "#4f9a5a"))}
      {dmrPurpleDense.map((s, i) => dot(s, i, "q", 2.7, "#8e6db6"))}
      {dmrPurple.map((s, i) => dot(s, i, "p", 2.7, "#8e6db6"))}
      {degUp.map((s, i) => pairs(s).map(([p, v], k) => <line key={"u" + i + "-" + k} {...line(fcR(0), fcR(v / 16), at(i, p))} stroke="#1aa7e8" strokeWidth={2.4} />))}
      {degDown.map((s, i) => pairs(s).map(([p, v], k) => <line key={"d" + i + "-" + k} {...line(fcR(0), fcR(-v / 16), at(i, p))} stroke="#ed3237" strokeWidth={2.4} />))}
      {ladDark.map((s, i) => nums(s).map((p, k) => <line key={"ld" + i + "-" + k} {...line(90, 114, at(i, p))} stroke="#7c7c7c" strokeWidth={1.3} />))}
      {ladLight.map((s, i) => nums(s).map((p, k) => <line key={"ll" + i + "-" + k} {...line(60, 82, at(i, p))} stroke="#c9c9c9" strokeWidth={1.2} />))}
      {chrMb.map((_, i) => i === 0 ? null : [
        <line key={"a" + i} {...line(219, 296, span(i)[0])} stroke="#111" strokeWidth={2.5} />,
        <line key={"b" + i} {...line(134, 213, span(i)[0])} stroke="#111" strokeWidth={2.5} />,
        <line key={"c" + i} {...line(47, 124, span(i)[0])} stroke="#111" strokeWidth={2.5} />,
      ])}
      <g transform={`translate(${cx},${cy})`}>
        {rings.map(([r0, r1], i) => <path key={i} d={ring(r0, r1, a0, a1)} fill="none" stroke="#111" strokeWidth={i === 0 ? 3 : 2.5} />)}
        <circle r={47} fill="none" stroke="#111" strokeWidth={2.5} />
      </g>
      {chrNames.map((n, i) => {
        const deg = (span(i)[0] + span(i)[1]) / 2;
        const [x, y] = polar(cx, cy, i === 0 ? 360 : 349, deg);
        return <T key={n} x={x} y={i === 0 ? y + 5 : y} s={26}>{n}</T>;
      })}
      {[0, 2, 4, 6].map((v) => {
        const r = tickR(v);
        const [x1, y1] = perp(r, 0), [x2, y2] = perp(r, 8), [tx, ty] = perp(r + 5, 18);
        return <g key={v}><line x1={x1} y1={y1} x2={x2} y2={y2} stroke="#111" strokeWidth={2} /><T x={tx} y={ty} s={17} rot={-22}>{v}</T></g>;
      })}
      {([7, 3, 0, -3, -7]).map((v) => {
        const r = fcR(v);
        const [x1, y1] = perp(r, 0), [x2, y2] = perp(r, 8), [tx, ty] = perp(r, 18);
        return <g key={v}><line x1={x1} y1={y1} x2={x2} y2={y2} stroke="#111" strokeWidth={2} /><T x={tx} y={ty} s={17} rot={-22}>{v < 0 ? "−" + -v : v}</T></g>;
      })}
    </g>
  );
}

function PanelF() {
  const x = d3.scaleLinear().domain([0, 10000]).range([202, 762]);
  const y = d3.scaleLinear().domain([0, 20]).range([1842, 1499]);
  const ln = d3.line<[number, number]>().x((d) => x(d[0])).y((d) => y(d[1] / 10)).curve(d3.curveCatmullRom.alpha(0.5));
  const path = (v: number[]) => ln(dpX.map((px, i) => [px, v[i]] as [number, number])) as string;
  const lg: [number, string, string, boolean][] = [[1492, "Family A Background", "#8fc740", true], [1524.5, "Family A differentially methylated CpG", "#1f9148", false], [1558.7, "Family C Background", "#c8aed8", true], [1591, "Family C differentially methylated CpG", "#8b65ad", false]];
  return (
    <g>
      <T x={2} y={1466} s={38} a="start">f)</T>
      <path d={path(famABg)} fill="none" stroke="#8fc740" strokeWidth={6.5} strokeDasharray="20 12" />
      <path d={path(famCBg)} fill="none" stroke="#c8aed8" strokeWidth={6.5} strokeDasharray="20 12" />
      <path d={path(famADm)} fill="none" stroke="#1f9148" strokeWidth={6.5} />
      <path d={path(famCDm)} fill="none" stroke="#8b65ad" strokeWidth={6.5} />
      <line x1={202} x2={202} y1={1445} y2={1842} stroke="#333" strokeWidth={2.5} />
      <line x1={196} x2={789} y1={1842} y2={1842} stroke="#333" strokeWidth={3.5} />
      {[0, 5, 10, 15, 20].map((t) => (
        <g key={t}>
          <line x1={195} x2={202} y1={y(t)} y2={y(t)} stroke="#333" strokeWidth={2.5} />
          <T x={189} y={y(t)} s={28} a="end">{(t / 100000).toFixed(5)}</T>
        </g>
      ))}
      {[0, 2500, 5000, 7500, 10000].map((t) => (
        <g key={t}>
          <line x1={x(t)} x2={x(t)} y1={1842} y2={1850} stroke="#333" strokeWidth={2.5} />
          <T x={x(t)} y={1866} s={28}>{t}</T>
        </g>
      ))}
      {lg.map(([ly, l, c, dash]) => (
        <g key={l}>
          <line x1={347} x2={397} y1={ly} y2={ly} stroke={c} strokeWidth={7} strokeDasharray={dash ? "20 10" : undefined} />
          <T x={413} y={ly} s={26} a="start">{l}</T>
        </g>
      ))}
      <T x={414.5} y={1627} s={25.5} a="start">p ≤ 4.02E-11</T>
      <T x={498} y={1902} s={29} >Distance to nearest inter-family CpG (bp)</T>
      <T x={46} y={1665.5} s={28} rot={-90}>Density</T>
    </g>
  );
}

function PanelChr5() {
  const cx = 1442, cy = 1985, half = 42.6;
  const ang = d3.scaleLinear().domain([0, 181]).range([-half, half]);
  const dmrR = d3.scaleLinear().domain([0, 6]).range([340, 400]);
  const fcR = d3.scaleLinear().domain([-7, 7]).range([216, 312]);
  const tracks: [number, number][] = [[459.3, 486.7], [334.3, 447.7], [208.3, 323.3], [80, 204.3]];
  const line = (r0: number, r1: number, deg: number) => {
    const [x1, y1] = polar(cx, cy, r0, deg), [x2, y2] = polar(cx, cy, r1, deg);
    return { x1, y1, x2, y2 };
  };
  const perp = (r: number, off: number) => polar(cx, cy, r, -half - (off / r) * (180 / Math.PI));
  const mbTicks = d3.range(0, 181, 5);
  const mbLabels: [string, number, number, number][] = [["0Mb", 1091, 1589, -48], ["60Mb", 1311, 1473, -18], ["120Mb", 1570, 1473, 16], ["180Mb", 1789, 1593, 50]];
  return (
    <g>
      <g transform={`translate(${cx},${cy})`}>
        <path d={ring(498, 498, -half, half)} fill="none" stroke="#111" strokeWidth={2} />
        {chr5Bands.map((b, i) => <path key={i} d={ring(459.3, 486.7, ang(b[0]), ang(b[1]))} fill={bandColor[b[2]]} />)}
        {[-7, -3, 3, 7].map((v) => <path key={v} d={ring(fcR(v), fcR(v), -half, half)} fill="none" stroke="#aaa" strokeWidth={1.6} strokeDasharray="1.6 8" />)}
        <path d={ring(fcR(0), fcR(0), -half, half)} fill="none" stroke="#999" strokeWidth={2.2} />
      </g>
      {mbTicks.map((m) => <line key={m} {...line(498, m % 20 === 0 ? 512 : 505, ang(m))} stroke="#111" strokeWidth={1.8} />)}
      {pairs(chr5Purple).map(([m, v], i) => { const [x, y] = polar(cx, cy, dmrR(v / 10), ang(m)); return <circle key={"p" + i} cx={x} cy={y} r={2.4} fill="#8e6db6" />; })}
      {pairs(chr5Green).map(([m, v], i) => { const [x, y] = polar(cx, cy, dmrR(v / 10), ang(m)); return <circle key={"g" + i} cx={x} cy={y} r={2.4} fill="#4f9a5a" />; })}
      {chr5Up.map(([m, v], i) => <line key={"u" + i} {...line(fcR(0), fcR(v), ang(m))} stroke="#1aa7e8" strokeWidth={2.6} />)}
      {chr5Down.map(([m, v], i) => <line key={"d" + i} {...line(fcR(0), fcR(-v), ang(m))} stroke="#ed3237" strokeWidth={2.6} />)}
      {chr5LadDark.map((m, i) => <line key={"ld" + i} {...line(147, 175, ang(m))} stroke="#7f7f7f" strokeWidth={2.6} />)}
      {chr5LadLight.map((m, i) => <line key={"ll" + i} {...line(98, 128, ang(m))} stroke="#bdbdbd" strokeWidth={2} />)}
      <g transform={`translate(${cx},${cy})`}>
        {tracks.map(([r0, r1], i) => <path key={i} d={ring(r0, r1, -half, half)} fill="none" stroke="#111" strokeWidth={2.6} />)}
      </g>
      {mbLabels.map(([l, x, y, r]) => <T key={l} x={x} y={y} s={23} rot={r}>{l}</T>)}
      <T x={1077.5} y={1552} s={28} st="italic" rot={-45}>chr 5</T>
      {[0, 2, 4, 6].map((v) => {
        const r = dmrR(v);
        const [x1, y1] = perp(r, 0), [x2, y2] = perp(r, 14), [tx, ty] = perp(r, 32);
        return <g key={v}><line x1={x1} y1={y1} x2={x2} y2={y2} stroke="#111" strokeWidth={2.2} /><T x={tx} y={ty} s={26} rot={-45}>{v}</T></g>;
      })}
      {[7, 3, 0, -3, -7].map((v) => {
        const r = fcR(v);
        const [x1, y1] = perp(r, 0), [x2, y2] = perp(r, 14), [tx, ty] = perp(r, 34);
        return <g key={v}><line x1={x1} y1={y1} x2={x2} y2={y2} stroke="#111" strokeWidth={2.2} /><T x={tx} y={ty} s={26} rot={-45}>{v < 0 ? "−" + -v : v}</T></g>;
      })}
      <T x={1392} y={1705} s={24} rot={-87} c="#333">F2RL1</T>
      <T x={1480} y={1718} s={24} rot={-78} c="#333">SEMA6A</T>
      <T x={1055.5} y={1729} s={22.5}>Genomic distance</T>
      <T x={1055.5} y={1756.5} s={22.5}>Log(bp)</T>
      <T x={1128} y={1833} s={22.5}>Log(fold change)</T>
      <T x={1745} y={1668} s={22} a="start">Family DMRs</T>
      <Sq x={1746} y={1684} w={20} h={19} f="#5fa568" /><T x={1777} y={1693} s={22} a="start">Family A</T>
      <Sq x={1746} y={1707} w={20} h={19} f="#a58bc4" /><T x={1777} y={1716.5} s={22} a="start">Family C</T>
      <T x={1659} y={1770} s={22} a="start">Fibroblast DEGs</T>
      <Sq x={1659} y={1782} w={19} h={19} f="#1aa7e8" /><T x={1690} y={1791} s={22} a="start">Upregulated</T>
      <Sq x={1659} y={1806} w={19} h={19} f="#ed3237" /><T x={1690} y={1815.5} s={22} a="start">Downregulated</T>
      <T x={1558} y={1865} s={22} a="start">Cardiac LADs</T>
      <Sq x={1559} y={1877} w={20} h={19.5} f="#8e8e90" /><T x={1589} y={1887} s={22} a="start">DCM</T>
      <Sq x={1663.5} y={1877} w={19} h={19.5} f="#b5b5b7" /><T x={1694} y={1887} s={22} a="start">Control</T>
    </g>
  );
}

function PanelG() {
  const y = d3.scaleLinear().domain([0, 50]).range([2360, 2012.5]);
  const x = (i: number) => 194 + Math.floor(i / 2) * 194.7 + (i % 2) * 80.5;
  const cols = ["#5b8ac5", "#97aedb", "#dfe5f4"];
  return (
    <g>
      <T x={10} y={1971} s={38} a="start">g)</T>
      <Sq x={301} y={1966} w={128} h={33} f="#65a86f" />
      <Sq x={708} y={1966} w={124} h={33} f="#a98bc2" />
      <T x={365} y={1982} s={26} w="bold">Family A</T>
      <T x={770} y={1982} s={26} w="bold">Family C</T>
      {gGoL.map((g, i) => {
        const l = gLoL[i], m = gMoL[i], t = g + l + m;
        return (
          <g key={i}>
            {[[0, g], [g, g + l], [g + l, t]].map(([a, b], k) => b > a ? (
              <g key={k}>
                <rect x={x(i)} y={y(b)} width={61} height={y(a) - y(b)} fill={cols[k]} />
                {i % 2 === 1 && <rect x={x(i)} y={y(b)} width={61} height={y(a) - y(b)} fill="url(#hatchW)" />}
              </g>
            ) : null)}
            <path d={`M${x(i)},2360V${y(t)}H${x(i) + 61}V2360`} fill="none" stroke="#333" strokeWidth={3} />
            <line x1={x(i) - 1} x2={x(i) + 62} y1={y(t)} y2={y(t)} stroke="#333" strokeWidth={3.5} />
          </g>
        );
      })}
      <line x1={136} x2={136} y1={2005} y2={2360} stroke="#333" strokeWidth={2.5} />
      <line x1={125} x2={922} y1={2360} y2={2360} stroke="#333" strokeWidth={3.5} />
      <line x1={562.6} x2={562.6} y1={2005} y2={2360} stroke="#222" strokeWidth={2.5} strokeDasharray="35 35" strokeDashoffset={15} />
      {[0, 10, 20, 30, 40, 50].map((t) => (
        <g key={t}>
          <line x1={129} x2={136} y1={y(t)} y2={y(t)} stroke="#333" strokeWidth={2.5} />
          <T x={119} y={y(t)} s={29} a="end">{t}</T>
        </g>
      ))}
      {gLabels.map((l, i) => <T key={i} x={268 + i * 195} y={2379} s={28.5}>{l}</T>)}
      <T x={57} y={2184} s={29} rot={-90}># of DMR-associated DEGs</T>
      {([[445, "GoL", 464, cols[0]], [532, "LoL", 551, cols[1]], [612, "MoL", 631.5, cols[2]]] as [number, string, number, string][]).map(([sx, l, tx, c]) => (
        <g key={l}><Sq x={sx} y={2411} w={16} h={15} f={c} /><T x={tx} y={2419.5} s={28} a="start">{l}</T></g>
      ))}
      <Sq x={337.5} y={2452.5} w={18.5} h={18.5} f="#333" />
      <T x={361.5} y={2462} s={26} a="start">Within LADs</T>
      <Sq x={590} y={2452.5} w={18.5} h={18.5} f="url(#hatchD)" />
      <T x={611} y={2462} s={28.5} a="start">Distal to LADs</T>
    </g>
  );
}

function PanelH() {
  const x = d3.scaleLinear().domain([-15, 30]).range([1097.7, 1828.4]);
  const y = d3.scaleLinear().domain([0, 20]).range([2395, 2048]);
  const rows = hBinStart.map((b, i) => ({ b, aHyper: hAHyper[i], aHypo: hAHypo[i], cHyper: hCHyper[i], cHypo: hCHypo[i] }));
  const keys = ["aHyper", "aHypo", "cHyper", "cHypo"];
  const series = d3.stack<any>().keys(keys)(rows);
  const fills: Record<string, string> = { aHyper: "url(#hatchA)", aHypo: "#a0d3a0", cHyper: "url(#hatchC)", cHypo: "#d5bbdb" };
  const lg: [string, string][] = [["Family C - Hypo DMR", "cHypo"], ["Family C - Hyper DMR", "cHyper"], ["Family A - Hypo DMR", "aHypo"], ["Family A - Hyper DMR", "aHyper"]];
  return (
    <g>
      <T x={1003} y={1966} s={38} a="start">h)</T>
      {series.map((s) => s.map((d, i) => d[1] > d[0] ? (
        <rect key={s.key + i} x={x(hBinStart[i])} y={y(d[1])} width={x(1) - x(0)} height={y(d[0]) - y(d[1])} fill={fills[s.key]} stroke="#555" strokeWidth={1.4} />
      ) : null))}
      <line x1={1097.7} x2={1097.7} y1={1962} y2={2395} stroke="#333" strokeWidth={2.5} />
      <line x1={1097.7} x2={1829} y1={2395} y2={2395} stroke="#333" strokeWidth={3.5} />
      {hYTicks.map(([v, l]) => (
        <g key={l}>
          <line x1={1090} x2={1097.7} y1={y(v)} y2={y(v)} stroke="#333" strokeWidth={2.5} />
          <T x={1081} y={y(v)} s={29} a="end">{l}</T>
        </g>
      ))}
      {[-10, 0, 10, 20, 30].map((t) => (
        <g key={t}>
          <line x1={x(t)} x2={x(t)} y1={2395} y2={2407} stroke="#333" strokeWidth={2.5} />
          <T x={x(t)} y={2428} s={29}>{t < 0 ? "−" + -t : t}</T>
        </g>
      ))}
      <T x={1531} y={2048.5} s={23.5} a="start">DEGs associated to:</T>
      <line x1={1531} x2={1743} y1={2060} y2={2060} stroke="#333" strokeWidth={1.8} />
      {lg.map(([l, k], i) => {
        const cy = [2080, 2118, 2156.5, 2194][i];
        return <g key={k}><Sq x={1531} y={cy - 11} w={22} h={22} f={fills[k]} /><T x={1558.5} y={cy} s={25.7} a="start">{l}</T></g>;
      })}
      <T x={1456.5} y={2460.5} s={29.2}>Distance from DMR-associated DEG to nearest LAD (Mbp)</T>
      <T x={1016} y={2192} s={28} rot={-90}>Frequency</T>
    </g>
  );
}

export default function App() {
  return (
    <svg width={1880} height={2477} viewBox="0 0 1880 2477" fontFamily={FONT} style={{ position: "absolute", left: 0, top: 0, background: "#fff" }}>
      <defs>
        <pattern id="hatchW" patternUnits="userSpaceOnUse" width={40} height={40}>
          <line x1={0} y1={40} x2={40} y2={0} stroke="#fff" strokeWidth={2.5} />
        </pattern>
        <pattern id="hatchD" patternUnits="userSpaceOnUse" width={5} height={5}>
          <rect width={5} height={5} fill="#fff" />
          <line x1={-1} y1={6} x2={6} y2={-1} stroke="#333" strokeWidth={2.6} />
        </pattern>
        <pattern id="hatchA" patternUnits="userSpaceOnUse" width={5} height={5}>
          <rect width={5} height={5} fill="#68ac70" />
          <line x1={-1} y1={6} x2={6} y2={-1} stroke="#94c89a" strokeWidth={1.2} />
        </pattern>
        <pattern id="hatchC" patternUnits="userSpaceOnUse" width={5} height={5}>
          <rect width={5} height={5} fill="#9e7cbd" />
          <line x1={-1} y1={6} x2={6} y2={-1} stroke="#c0a6d4" strokeWidth={1.2} />
        </pattern>
      </defs>
      <PanelA />
      <PanelBD />
      <PanelC />
      <PanelE />
      <PanelF />
      <PanelChr5 />
      <PanelG />
      <PanelH />
    </svg>
  );
}
